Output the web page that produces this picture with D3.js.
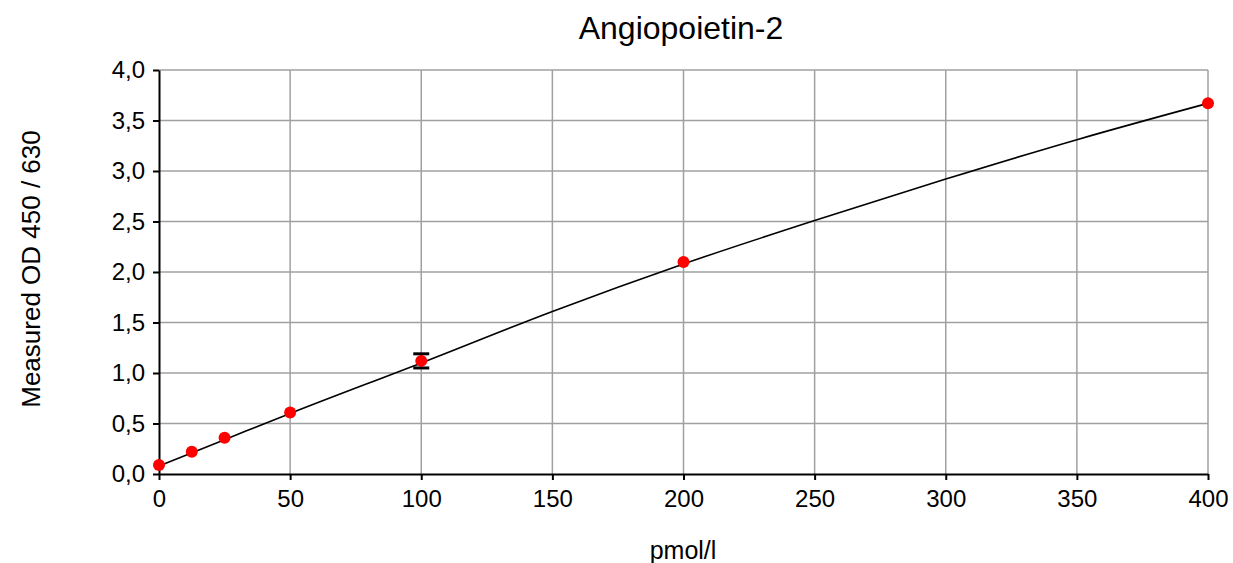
<!DOCTYPE html>
<html>
<head>
<meta charset="utf-8">
<script src="https://cdn.jsdelivr.net/npm/d3@7"></script>
<style>
  body { margin: 0; background: #fff; }
  text { font-family: "Liberation Sans", Arial, sans-serif; }
</style>
</head>
<body>
<div class="chart"></div>
<script>
// measured standards
const conc = [0, 12.5, 25, 50, 100, 200, 400];
const od = [0.09, 0.22, 0.36, 0.61, 1.12, 2.10, 3.67];
const odErr = [0, 0, 0, 0, 0.07, 0, 0];

// fitted curve
const fitX = [0, 25, 50, 100, 150, 200, 250, 300, 350, 400];
const fitY = [0.08, 0.34, 0.60, 1.10, 1.61, 2.08, 2.51, 2.92, 3.31, 3.67];

const xTicks = [0, 50, 100, 150, 200, 250, 300, 350, 400];
const yTicks = [0, 0.5, 1, 1.5, 2, 2.5, 3, 3.5, 4];

const W = 1233, H = 563;
const plotL = 159, plotR = 1208, plotT = 70, plotB = 474;

const svg = d3.select(".chart")
    .append("svg")
    .attr("width", W)
    .attr("height", H);

const x = d3.scaleLinear().domain([0, 400]).range([plotL, plotR]);
const y = d3.scaleLinear().domain([0, 4]).range([plotB, plotT]);
const fmt = d => d3.format(".1f")(d).replace(".", ",");

// grid
svg.append("g")
    .selectAll("line")
    .data(xTicks.slice(1))
    .enter()
    .append("line")
    .attr("x1", d => x(d)).attr("x2", d => x(d))
    .attr("y1", plotT).attr("y2", plotB)
    .attr("stroke", "#a0a0a0").attr("stroke-width", 1.5);

svg.append("g")
    .selectAll("line")
    .data(yTicks.slice(1))
    .enter()
    .append("line")
    .attr("x1", plotL).attr("x2", plotR)
    .attr("y1", d => y(d)).attr("y2", d => y(d))
    .attr("stroke", "#a0a0a0").attr("stroke-width", 1.5);

// axes
const xAxis = svg.append("g")
    .attr("transform", `translate(0,${plotB})`)
    .call(d3.axisBottom(x).tickValues(xTicks).tickSize(6).tickSizeOuter(0).tickPadding(10));
const yAxis = svg.append("g")
    .attr("transform", `translate(${plotL},0)`)
    .call(d3.axisLeft(y).tickValues(yTicks).tickFormat(fmt).tickSize(6).tickSizeOuter(0).tickPadding(8));

[xAxis, yAxis].forEach(a => {
    a.select(".domain").attr("stroke", "#000").attr("stroke-width", 2);
    a.selectAll(".tick line").attr("stroke", "#000").attr("stroke-width", 2);
    a.selectAll("text").attr("font-size", 24).attr("fill", "#000")
        .attr("font-family", "'Liberation Sans', Arial, sans-serif");
});

// fitted line
svg.append("path")
    .datum(fitX.map((d, i) => [d, fitY[i]]))
    .attr("d", d3.line().x(d => x(d[0])).y(d => y(d[1])).curve(d3.curveMonotoneX))
    .attr("fill", "none")
    .attr("stroke", "#000")
    .attr("stroke-width", 1.6);

// error bars
const errs = conc.map((d, i) => ({x: d, y: od[i], e: odErr[i]})).filter(d => d.e > 0);
errs.forEach(d => {
    const g = svg.append("g").attr("stroke", "#000").attr("stroke-width", 3);
    g.append("line").attr("x1", x(d.x)).attr("x2", x(d.x)).attr("y1", y(d.y + d.e)).attr("y2", y(d.y - d.e)).attr("stroke-width", 2);
    g.append("line").attr("x1", x(d.x) - 8).attr("x2", x(d.x) + 8).attr("y1", y(d.y + d.e)).attr("y2", y(d.y + d.e));
    g.append("line").attr("x1", x(d.x) - 8).attr("x2", x(d.x) + 8).attr("y1", y(d.y - d.e)).attr("y2", y(d.y - d.e));
});

// points
svg.selectAll("circle")
    .data(conc)
    .enter()
    .append("circle")
    .attr("cx", d => x(d))
    .attr("cy", (d, i) => y(od[i]))
    .attr("r", 6)
    .attr("fill", "#ff0000");

// titles
svg.append("text")
    .attr("x", 681).attr("y", 39)
    .attr("text-anchor", "middle")
    .attr("font-size", 32)
    .text("Angiopoietin-2");

svg.append("text")
    .attr("x", 683).attr("y", 559)
    .attr("text-anchor", "middle")
    .attr("font-size", 25)
    .text("pmol/l");

svg.append("text")
    .attr("transform", "translate(40,269) rotate(-90)")
    .attr("text-anchor", "middle")
    .attr("font-size", 26)
    .text("Measured OD 450 / 630");
</script>
</body>
</html>
